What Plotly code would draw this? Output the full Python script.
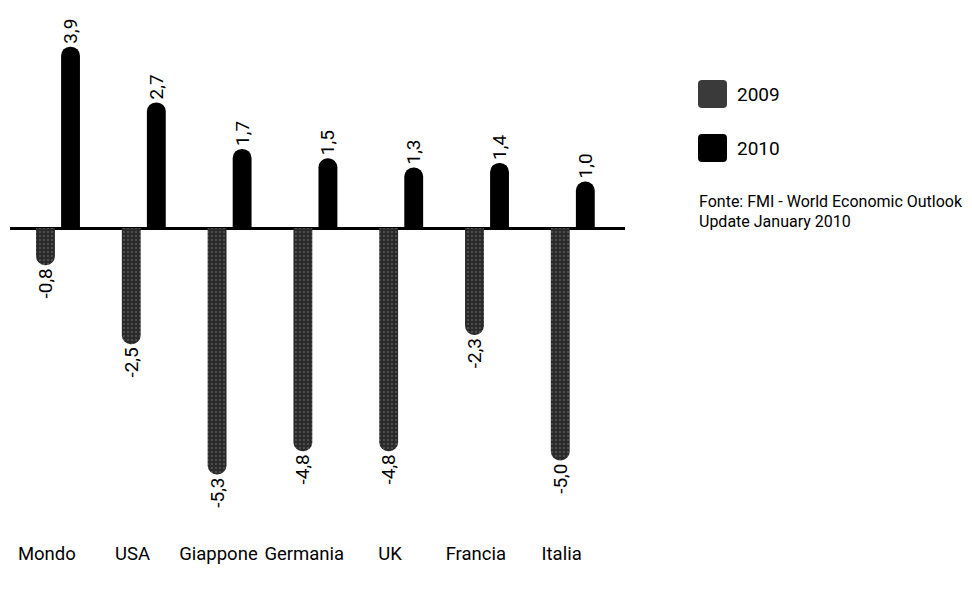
import plotly.graph_objects as go
import numpy as np

# ---- data ----
categories = ["Mondo", "USA", "Giappone", "Germania", "UK", "Francia", "Italia"]
growth_2009 = [-0.8, -2.5, -5.3, -4.8, -4.8, -2.3, -5.0]
growth_2010 = [3.9, 2.7, 1.7, 1.5, 1.3, 1.4, 1.0]
series_names = ["2009", "2010"]
source_lines = ["Fonte: FMI - World Economic Outlook", "Update January 2010"]

# ---- layout constants ----
W, H = 972, 590
ML, MR, MT, MB = 10, 347, 18, 60
PW, PH = W - ML - MR, H - MT - MB
FONT = "Roboto, Liberation Sans, sans-serif"
GRAY = "#2a2a2a"
BLACK = "#000000"
BW = 0.22
OFF = 0.146

def px(x):
    return (x - ML) / PW

def py(y):
    return (H - MB - y) / PH

def rounded_rect(x0, y0, x1, y1, r):
    return (f"M {px(x0 + r)},{py(y0)} L {px(x1 - r)},{py(y0)} "
            f"Q {px(x1)},{py(y0)} {px(x1)},{py(y0 + r)} "
            f"L {px(x1)},{py(y1 - r)} Q {px(x1)},{py(y1)} {px(x1 - r)},{py(y1)} "
            f"L {px(x0 + r)},{py(y1)} Q {px(x0)},{py(y1)} {px(x0)},{py(y1 - r)} "
            f"L {px(x0)},{py(y0 + r)} Q {px(x0)},{py(y0)} {px(x0 + r)},{py(y0)} Z")

x = np.arange(len(categories))

fig = go.Figure()
fig.add_bar(
    x=x - OFF, y=growth_2009, width=BW, name=series_names[0],
    marker=dict(color=GRAY, line_width=0, cornerradius="50%",
                pattern=dict(shape=".", fgcolor="#8c8c8c", bgcolor=GRAY,
                             size=4, solidity=0.18)),
    texttemplate="%{y:.1f}", textposition="outside", textangle=-90,
    constraintext="none", cliponaxis=False,
    textfont=dict(size=19, color="black", family=FONT),
)
fig.add_bar(
    x=x + OFF, y=growth_2010, width=BW, name=series_names[1],
    marker=dict(color=BLACK, line_width=0, cornerradius="50%"),
    texttemplate="%{y:.1f}", textposition="outside", textangle=-90,
    constraintext="none", cliponaxis=False,
    textfont=dict(size=19, color="black", family=FONT),
)

shapes = [
    dict(type="path", xref="paper", yref="paper",
         path=rounded_rect(698, 80, 727, 108, 4), fillcolor="#3a3a3a", line_width=0),
    dict(type="path", xref="paper", yref="paper",
         path=rounded_rect(698, 134, 727, 162, 4), fillcolor=BLACK, line_width=0),
]
annotations = [
    dict(xref="paper", yref="paper", x=px(735), y=py(94), text=series_names[0],
         showarrow=False, xanchor="left", yanchor="middle",
         font=dict(size=19, color="black", family=FONT)),
    dict(xref="paper", yref="paper", x=px(735), y=py(148), text=series_names[1],
         showarrow=False, xanchor="left", yanchor="middle",
         font=dict(size=19, color="black", family=FONT)),
    dict(xref="paper", yref="paper", x=px(697), y=py(201), text=source_lines[0],
         showarrow=False, xanchor="left", yanchor="middle",
         font=dict(size=16, color="black", family=FONT)),
    dict(xref="paper", yref="paper", x=px(697), y=py(221), text=source_lines[1],
         showarrow=False, xanchor="left", yanchor="middle",
         font=dict(size=16, color="black", family=FONT)),
]

fig.update_layout(
    width=W, height=H, margin=dict(l=ML, r=MR, t=MT, b=MB, autoexpand=False),
    paper_bgcolor="white", plot_bgcolor="white",
    separators=",.", showlegend=False, barmode="overlay",
    font=dict(family=FONT, color="black"),
    shapes=shapes, annotations=annotations,
    xaxis=dict(range=[(ML - 58) / 85.8, (W - MR - 58) / 85.8],
               tickvals=list(x - 0.13), ticktext=categories, tickangle=0,
               tickfont=dict(size=18.5, family=FONT, color="black"),
               ticklabelstandoff=10,
               showgrid=False, zeroline=False, showline=False, ticks="",
               automargin=False),
    yaxis=dict(range=[-(H - MB - 228) / 46.5, (228 - MT) / 46.5],
               showticklabels=False, showgrid=False, ticks="",
               zeroline=True, zerolinecolor="black", zerolinewidth=2.5,
               showline=False, automargin=False),
)

fig.write_html("out.html")
